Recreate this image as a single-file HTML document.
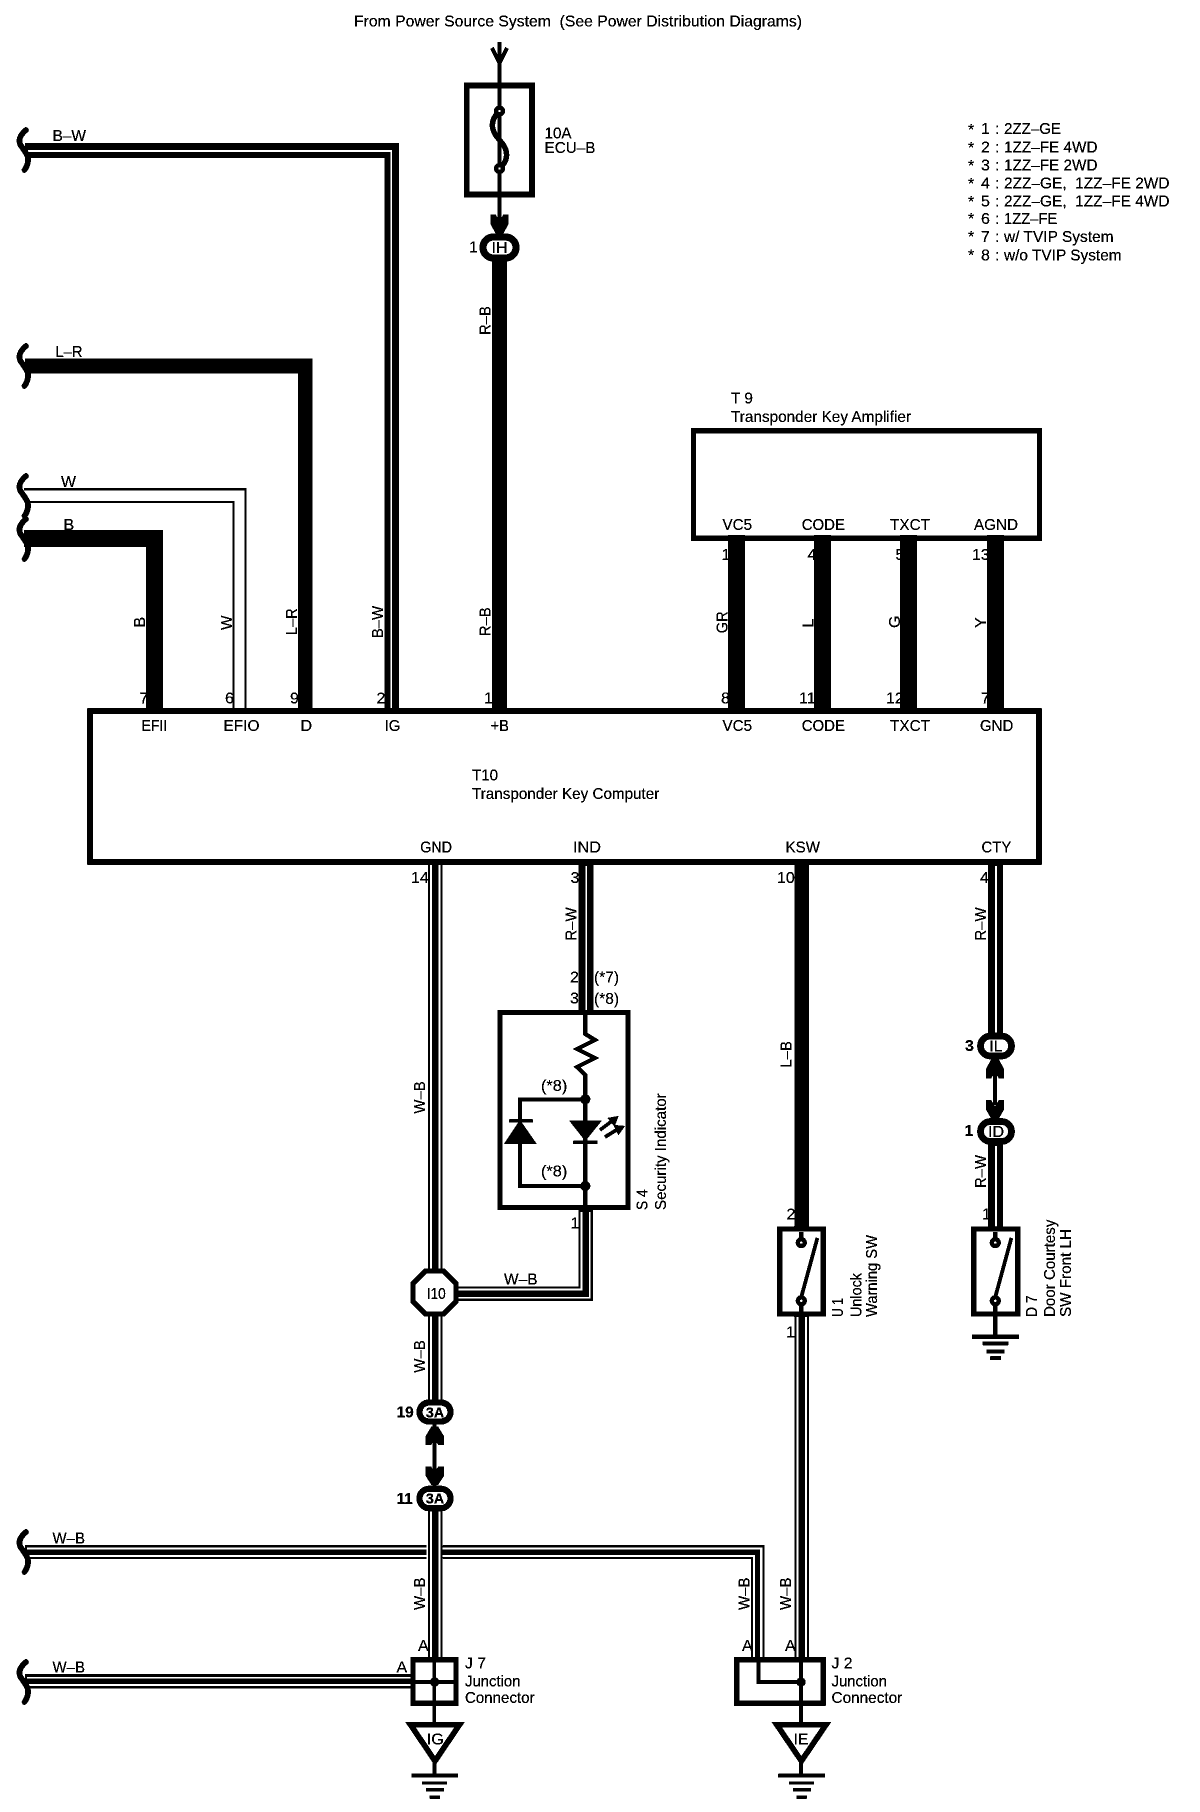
<!DOCTYPE html>
<html lang="en">
<head>
<meta charset="utf-8">
<title>Transponder Key Computer Wiring Diagram</title>
<style>
html,body{margin:0;padding:0;background:#fff}
svg{display:block}
text{font-family:"Liberation Sans",Arial,sans-serif;font-size:16px;fill:#000}
.b{font-weight:bold}
.w{fill:none;stroke:#000}
.g{fill:none;stroke:#fff}
</style>
</head>
<body>
<svg xmlns="http://www.w3.org/2000/svg" width="1200" height="1812" viewBox="0 0 1200 1812">
<defs>
<filter id="bw" x="0" y="0" width="100%" height="100%" color-interpolation-filters="sRGB">
<feColorMatrix type="saturate" values="0"/>
<feComponentTransfer>
<feFuncR type="discrete" tableValues="0 0 0 1"/>
<feFuncG type="discrete" tableValues="0 0 0 1"/>
<feFuncB type="discrete" tableValues="0 0 0 1"/>
</feComponentTransfer>
</filter>
</defs>
<g filter="url(#bw)">
<rect width="1200" height="1812" fill="#fff"/>

<!-- header / notes -->
<text x="354" y="26.5" textLength="448" lengthAdjust="spacingAndGlyphs">From Power Source System&#160; (See Power Distribution Diagrams)</text>
<text x="968" y="135">*</text><text x="981" y="134">1</text><text x="995" y="134">:</text><text x="1004" y="134" textLength="57" lengthAdjust="spacingAndGlyphs">2ZZ–GE</text>
<text x="968" y="153">*</text><text x="981" y="152.3">2</text><text x="995" y="152.3">:</text><text x="1004" y="152.3" textLength="93.5" lengthAdjust="spacingAndGlyphs">1ZZ–FE 4WD</text>
<text x="968" y="171">*</text><text x="981" y="170.7">3</text><text x="995" y="170.7">:</text><text x="1004" y="170.7" textLength="93.5" lengthAdjust="spacingAndGlyphs">1ZZ–FE 2WD</text>
<text x="968" y="189">*</text><text x="981" y="188.7">4</text><text x="995" y="188.7">:</text><text x="1004" y="188.7" textLength="165.5" lengthAdjust="spacingAndGlyphs">2ZZ–GE,&#160; 1ZZ–FE 2WD</text>
<text x="968" y="207">*</text><text x="981" y="206.7">5</text><text x="995" y="206.7">:</text><text x="1004" y="206.7" textLength="165.5" lengthAdjust="spacingAndGlyphs">2ZZ–GE,&#160; 1ZZ–FE 4WD</text>
<text x="968" y="224">*</text><text x="981" y="224">6</text><text x="995" y="224">:</text><text x="1004" y="224" textLength="53.3" lengthAdjust="spacingAndGlyphs">1ZZ–FE</text>
<text x="968" y="242">*</text><text x="981" y="242">7</text><text x="995" y="242">:</text><text x="1004" y="242" textLength="109.6" lengthAdjust="spacingAndGlyphs">w/ TVIP System</text>
<text x="968" y="260.6">*</text><text x="981" y="260.6">8</text><text x="995" y="260.6">:</text><text x="1004" y="260.6" textLength="117.6" lengthAdjust="spacingAndGlyphs">w/o TVIP System</text>

<!-- fuse labels -->
<text x="544.5" y="138.5" textLength="27" lengthAdjust="spacingAndGlyphs">10A</text>
<text x="544.5" y="153" textLength="51" lengthAdjust="spacingAndGlyphs">ECU–B</text>
<text x="469" y="252.5">1</text>

<!-- pin numbers (drawn below the wires) -->
<text x="139.5" y="703.3">7</text>
<text x="225" y="703.3">6</text>
<text x="290" y="703.3">9</text>
<text x="376.5" y="703.3">2</text>
<text x="484" y="703.3">1</text>
<text x="721" y="703.3">8</text>
<text x="799" y="703.3">11</text>
<text x="886" y="703.3">12</text>
<text x="981" y="703.3">7</text>
<text x="721.5" y="559.9">1</text>
<text x="807.5" y="559.9">4</text>
<text x="895.5" y="559.9">5</text>
<text x="972" y="559.9">13</text>
<text x="411" y="883">14</text>
<text x="570.5" y="883">3</text>
<text x="777" y="883">10</text>
<text x="980" y="883">4</text>
<text x="570" y="982.7">2</text>
<text x="570" y="1003.7">3</text>
<text x="594" y="982.7" textLength="25" lengthAdjust="spacingAndGlyphs">(*7)</text>
<text x="594" y="1004" textLength="25" lengthAdjust="spacingAndGlyphs">(*8)</text>
<text x="570.5" y="1228.3">1</text>
<text x="786.5" y="1219.6">2</text>
<text x="982" y="1219.6">1</text>
<text x="786" y="1337.5">1</text>

<!-- top feed -->
<path class="w" stroke-width="4" d="M499.5 42V226"/>
<path class="w" stroke-width="3.8" d="M492 48L499.5 63L507 48"/>
<rect x="466.8" y="85.4" width="65.2" height="109.2" fill="none" stroke="#000" stroke-width="5.6"/>
<path class="w" stroke-width="5.2" d="M499.5 111C490 120 490 130 499.5 140C509 150 509 160 499.5 168.5"/>
<circle cx="499.5" cy="111" r="3.4" fill="#fff" stroke="#000" stroke-width="4.2"/>
<circle cx="499.5" cy="168.5" r="3.4" fill="#fff" stroke="#000" stroke-width="4.2"/>
<polygon points="490.5,214.5 495.5,214.5 499.5,221 503.5,214.5 508.5,214.5 508.5,224 503,234 496,234 490.5,224"/>

<!-- heavy wires -->
<path class="w" stroke-width="15" d="M499.5 255V710"/>
<path class="w" stroke-width="14.6" d="M25 150.3H391.8V710"/>
<path class="g" stroke-width="1.8" d="M27 151H391.1V710"/>
<path class="w" stroke-width="14.5" d="M25 366H305.3V710"/>
<path class="w" stroke-width="2" d="M24 489.3H245.5V710"/>
<path class="w" stroke-width="2" d="M26 502H233.6V710"/>
<path class="w" stroke-width="16.5" d="M24 538.5H154.6V714"/>
<path class="w" stroke-width="16.8" d="M736.6 535V714"/>
<path class="w" stroke-width="16.8" d="M822.4 535V714"/>
<path class="w" stroke-width="16.8" d="M908.5 535V714"/>
<path class="w" stroke-width="16.8" d="M995.3 535V714"/>

<!-- lower wires -->
<path class="w" stroke-width="14" d="M435.3 862V1272"/>
<path class="g" stroke-width="2.2" d="M431.2 865V1272"/>
<path class="g" stroke-width="2.2" d="M439.3 865V1272"/>
<path class="w" stroke-width="14.4" d="M586 862V1012"/>
<path class="g" stroke-width="1.8" d="M586.3 866V1012"/>
<path class="w" stroke-width="14.6" d="M801.7 862V1230"/>
<path class="w" stroke-width="15" d="M995.5 862V1040"/>
<path class="g" stroke-width="1.9" d="M996 866V1036"/>
<path class="w" stroke-width="15" d="M995.5 1140V1230"/>
<path class="g" stroke-width="1.9" d="M996 1146V1227"/>

<!-- S4 lower + I10 horizontal -->
<path class="w" stroke-width="14.2" d="M455 1293.7H585.7V1208"/>
<path class="g" stroke-width="2" d="M455 1289.6H581.6V1212"/>
<path class="g" stroke-width="2" d="M455 1297.8H589.8V1212"/>

<!-- I10 -> J7 -->
<path class="w" stroke-width="14" d="M435.3 1312V1412"/>
<path class="g" stroke-width="2.2" d="M431.2 1316V1402"/>
<path class="g" stroke-width="2.2" d="M439.3 1316V1402"/>
<path class="w" stroke-width="4" d="M434.6 1420V1490"/>
<path class="w" stroke-width="14" d="M435.3 1506V1660"/>
<path class="g" stroke-width="2.2" d="M431.2 1510V1657"/>
<path class="g" stroke-width="2.2" d="M439.3 1510V1657"/>

<!-- W-B horizontal to J2 -->
<path class="w" stroke-width="14" d="M25 1552H426.6"/>
<path class="g" stroke-width="2.4" d="M27 1548.4H426.6"/>
<path class="g" stroke-width="2.2" d="M27 1556H426.6"/>
<path class="w" stroke-width="13.6" d="M442.8 1552H757.8V1660"/>
<path class="g" stroke-width="2.4" d="M442.8 1548.4H761.2V1657"/>
<path class="g" stroke-width="2.2" d="M442.8 1556H754V1657"/>

<!-- W-B horizontal to J7 -->
<path class="w" stroke-width="14" d="M25 1681.3H411"/>
<path class="g" stroke-width="2.2" d="M27 1677.8H411"/>
<path class="g" stroke-width="2.2" d="M27 1685H411"/>

<!-- U1 -> J2 -->
<path class="w" stroke-width="14.6" d="M801.7 1314V1660"/>
<path class="g" stroke-width="2.2" d="M797.6 1317V1657"/>
<path class="g" stroke-width="2" d="M806 1317V1657"/>

<!-- break marks -->
<g class="w" stroke-width="5.5" stroke-linecap="round">
<path transform="translate(19 129)" class="w" d="M7 1C1 6-1 11 1.5 16C5 21 10 27 9 32C8.5 36 7 39 5.5 41"/>
<path transform="translate(19 345)" class="w" d="M7 1C1 6-1 11 1.5 16C5 21 10 27 9 32C8.5 36 7 39 5.5 41"/>
<path transform="translate(19 475)" class="w" d="M7 1C1 6-1 11 1.5 16C5 21 10 27 9 32C8.5 36 7 39 5.5 41"/>
<path transform="translate(19 518)" class="w" d="M7 1C1 6-1 11 1.5 16C5 21 10 27 9 32C8.5 36 7 39 5.5 41"/>
<path transform="translate(19 1531)" class="w" d="M7 1C1 6-1 11 1.5 16C5 21 10 27 9 32C8.5 36 7 39 5.5 41"/>
<path transform="translate(19 1661)" class="w" d="M7 1C1 6-1 11 1.5 16C5 21 10 27 9 32C8.5 36 7 39 5.5 41"/>
</g>

<!-- wire labels horizontal -->
<text x="52.5" y="140.8" textLength="33.5" lengthAdjust="spacingAndGlyphs">B–W</text>
<text x="55.5" y="357" textLength="27" lengthAdjust="spacingAndGlyphs">L–R</text>
<text x="61" y="487" textLength="15" lengthAdjust="spacingAndGlyphs">W</text>
<text x="63.5" y="530">B</text>
<text x="52.5" y="1543.4" textLength="32.5" lengthAdjust="spacingAndGlyphs">W–B</text>
<text x="52.5" y="1672.3" textLength="32.5" lengthAdjust="spacingAndGlyphs">W–B</text>
<text x="504" y="1284.5" textLength="33.5" lengthAdjust="spacingAndGlyphs">W–B</text>

<!-- wire labels rotated -->
<text transform="translate(490.5 335) rotate(-90)" textLength="29" lengthAdjust="spacingAndGlyphs">R–B</text>
<text transform="translate(490.5 636.3) rotate(-90)" textLength="29" lengthAdjust="spacingAndGlyphs">R–B</text>
<text transform="translate(145 627.5) rotate(-90)">B</text>
<text transform="translate(232 630) rotate(-90)" textLength="14.5" lengthAdjust="spacingAndGlyphs">W</text>
<text transform="translate(297 635.2) rotate(-90)" textLength="27" lengthAdjust="spacingAndGlyphs">L–R</text>
<text transform="translate(383 638.3) rotate(-90)" textLength="32.5" lengthAdjust="spacingAndGlyphs">B–W</text>
<text transform="translate(727.5 633.3) rotate(-90)" textLength="22" lengthAdjust="spacingAndGlyphs">GR</text>
<text transform="translate(813.5 627.5) rotate(-90)">L</text>
<text transform="translate(900 628) rotate(-90)">G</text>
<text transform="translate(986 628) rotate(-90)">Y</text>
<text transform="translate(425 1113.6) rotate(-90)" textLength="32.2" lengthAdjust="spacingAndGlyphs">W–B</text>
<text transform="translate(425 1372.7) rotate(-90)" textLength="32.5" lengthAdjust="spacingAndGlyphs">W–B</text>
<text transform="translate(425 1610) rotate(-90)" textLength="32.5" lengthAdjust="spacingAndGlyphs">W–B</text>
<text transform="translate(749.5 1610) rotate(-90)" textLength="32.5" lengthAdjust="spacingAndGlyphs">W–B</text>
<text transform="translate(791 1610) rotate(-90)" textLength="32.5" lengthAdjust="spacingAndGlyphs">W–B</text>
<text transform="translate(791.5 1067.6) rotate(-90)" textLength="26.6" lengthAdjust="spacingAndGlyphs">L–B</text>
<text transform="translate(576.5 940.6) rotate(-90)" textLength="33.3" lengthAdjust="spacingAndGlyphs">R–W</text>
<text transform="translate(986 940.6) rotate(-90)" textLength="33.3" lengthAdjust="spacingAndGlyphs">R–W</text>
<text transform="translate(986 1188) rotate(-90)" textLength="33" lengthAdjust="spacingAndGlyphs">R–W</text>

<!-- T9 -->
<rect x="693.5" y="430.7" width="346" height="107.5" fill="none" stroke="#000" stroke-width="5"/>
<text x="731" y="403.7" textLength="22" lengthAdjust="spacingAndGlyphs">T 9</text>
<text x="731" y="422" textLength="180" lengthAdjust="spacingAndGlyphs">Transponder Key Amplifier</text>
<text x="722.5" y="530" textLength="29.5" lengthAdjust="spacingAndGlyphs">VC5</text>
<text x="801.7" y="530" textLength="43.3" lengthAdjust="spacingAndGlyphs">CODE</text>
<text x="890" y="530" textLength="40" lengthAdjust="spacingAndGlyphs">TXCT</text>
<text x="974" y="530" textLength="44" lengthAdjust="spacingAndGlyphs">AGND</text>

<!-- T10 -->
<rect x="90" y="711" width="949" height="151" fill="none" stroke="#000" stroke-width="5.4"/>
<text x="141.6" y="730.9" textLength="25.6" lengthAdjust="spacingAndGlyphs">EFII</text>
<text x="223.5" y="730.9" textLength="36" lengthAdjust="spacingAndGlyphs">EFIO</text>
<text x="300.5" y="730.9">D</text>
<text x="384.6" y="730.9" textLength="15.7" lengthAdjust="spacingAndGlyphs">IG</text>
<text x="490.6" y="730.9" textLength="18.4" lengthAdjust="spacingAndGlyphs">+B</text>
<text x="722.5" y="730.9" textLength="29.5" lengthAdjust="spacingAndGlyphs">VC5</text>
<text x="801.7" y="730.9" textLength="43.3" lengthAdjust="spacingAndGlyphs">CODE</text>
<text x="890" y="730.9" textLength="40" lengthAdjust="spacingAndGlyphs">TXCT</text>
<text x="980" y="730.9" textLength="33.3" lengthAdjust="spacingAndGlyphs">GND</text>
<text x="472" y="780.6" textLength="26" lengthAdjust="spacingAndGlyphs">T10</text>
<text x="472" y="799" textLength="187.3" lengthAdjust="spacingAndGlyphs">Transponder Key Computer</text>
<text x="420.2" y="852.6" textLength="31.8" lengthAdjust="spacingAndGlyphs">GND</text>
<text x="573" y="852.6" textLength="28" lengthAdjust="spacingAndGlyphs">IND</text>
<text x="785.6" y="852.6" textLength="34.4" lengthAdjust="spacingAndGlyphs">KSW</text>
<text x="981.5" y="852.6" textLength="29.9" lengthAdjust="spacingAndGlyphs">CTY</text>

<!-- S4 -->
<rect x="500" y="1012.5" width="128" height="195" fill="none" stroke="#000" stroke-width="5"/>
<path class="w" stroke-width="4" d="M585.3 1010V1034L595 1040L577 1049L595 1058L577 1067L585.3 1075V1210"/>
<path class="w" stroke-width="3.6" d="M585.3 1099.3H520V1186H585.3"/>
<circle cx="585.3" cy="1099.3" r="5"/>
<circle cx="585.3" cy="1186" r="5"/>
<polygon points="520,1120 536.7,1144 504,1144"/>
<rect x="509.3" y="1119.3" width="23.4" height="3.2"/>
<polygon points="569.3,1120.7 601.7,1120.7 585.3,1141"/>
<rect x="573.3" y="1140.7" width="24" height="3.4"/>
<path class="w" stroke-width="3.4" d="M600 1130L612 1121"/>
<polygon points="607.5,1118 618.5,1116 614.5,1126.5"/>
<path class="w" stroke-width="3.4" d="M605 1137L618 1129"/>
<polygon points="613.5,1125 625,1126 618.5,1135"/>
<text x="541" y="1091" textLength="26.3" lengthAdjust="spacingAndGlyphs">(*8)</text>
<text x="541" y="1176.7" textLength="26.3" lengthAdjust="spacingAndGlyphs">(*8)</text>
<text transform="translate(647.3 1210) rotate(-90)" textLength="20.7" lengthAdjust="spacingAndGlyphs">S 4</text>
<text transform="translate(666 1210) rotate(-90)" textLength="116.7" lengthAdjust="spacingAndGlyphs">Security Indicator</text>

<!-- I10 octagon -->
<polygon points="425.5,1271 443.5,1271 456,1283.5 456,1301.5 443.5,1314 425.5,1314 413,1301.5 413,1283.5" fill="#fff" stroke="#000" stroke-width="5"/>
<text x="426.7" y="1299" textLength="19" lengthAdjust="spacingAndGlyphs">I10</text>

<!-- ovals & connectors -->
<rect x="483" y="237" width="33" height="21" rx="10.5" fill="#fff" stroke="#000" stroke-width="7"/>
<text x="499.5" y="253" text-anchor="middle">IH</text>

<rect x="980.5" y="1036" width="31" height="20" rx="10" fill="#fff" stroke="#000" stroke-width="6.5"/>
<text x="996" y="1051.5" text-anchor="middle">IL</text>
<text class="b" x="965" y="1050.8">3</text>
<path class="w" stroke-width="4" d="M995 1062V1105"/>
<polygon points="986,1078.5 991,1078.5 995,1072 999,1078.5 1004,1078.5 1004,1069 998.5,1059 991.5,1059 986,1069"/>
<polygon points="986,1100 991,1100 995,1106.5 999,1100 1004,1100 1004,1109.5 998.5,1119 991.5,1119 986,1109.5"/>
<rect x="980.5" y="1121.5" width="31" height="20" rx="10" fill="#fff" stroke="#000" stroke-width="6.5"/>
<text x="996" y="1137" text-anchor="middle">ID</text>
<text class="b" x="964.5" y="1135.8">1</text>

<rect x="419.5" y="1402.5" width="31" height="19" rx="9.5" fill="#fff" stroke="#000" stroke-width="6"/>
<text x="435" y="1417.5" text-anchor="middle" class="b" style="font-size:14.5px">3A</text>
<text class="b" x="396.5" y="1417.5" style="font-size:15.5px">19</text>
<polygon points="425.8,1445 431,1445 434.7,1439 438.4,1445 443.8,1445 443.8,1436 438,1426.5 431.5,1426.5 425.8,1436"/>
<polygon points="425.8,1466.5 431,1466.5 434.7,1472.5 438.4,1466.5 443.8,1466.5 443.8,1476 438,1485 431.5,1485 425.8,1476"/>
<rect x="419.5" y="1488.7" width="31" height="19.5" rx="9.7" fill="#fff" stroke="#000" stroke-width="6"/>
<text x="435" y="1503.7" text-anchor="middle" class="b" style="font-size:14.5px">3A</text>
<text class="b" x="396.5" y="1504" style="font-size:15.5px">11</text>

<!-- U1 -->
<rect x="779.8" y="1229" width="43.4" height="85" fill="none" stroke="#000" stroke-width="5.2"/>
<rect x="785" y="1231.6" width="33" height="6" fill="#fff"/>
<path class="w" stroke-width="4" d="M801.3 1232V1243M801.3 1300V1320"/>
<circle cx="801.3" cy="1242.6" r="3.4" fill="#fff" stroke="#000" stroke-width="4.2"/>
<path class="w" stroke-width="3.5" d="M801 1298L817.4 1238"/>
<circle cx="801.3" cy="1300.8" r="3.4" fill="#fff" stroke="#000" stroke-width="4.2"/>
<text transform="translate(843 1317) rotate(-90)" textLength="19" lengthAdjust="spacingAndGlyphs">U 1</text>
<text transform="translate(861.5 1317) rotate(-90)" textLength="44" lengthAdjust="spacingAndGlyphs">Unlock</text>
<text transform="translate(877 1317) rotate(-90)" textLength="82" lengthAdjust="spacingAndGlyphs">Warning SW</text>

<!-- D7 -->
<rect x="973.8" y="1229" width="43.8" height="85" fill="none" stroke="#000" stroke-width="5.2"/>
<rect x="979" y="1231.6" width="33" height="6" fill="#fff"/>
<path class="w" stroke-width="4" d="M995.3 1232V1243M995.3 1300V1336"/>
<circle cx="995.3" cy="1242.6" r="3.4" fill="#fff" stroke="#000" stroke-width="4.2"/>
<path class="w" stroke-width="3.5" d="M995 1298L1011.4 1238"/>
<circle cx="995.3" cy="1300.8" r="3.4" fill="#fff" stroke="#000" stroke-width="4.2"/>
<rect x="972" y="1334.5" width="47" height="4.2"/>
<rect x="982.7" y="1341.4" width="25.6" height="3.8"/>
<rect x="986.5" y="1349.8" width="18" height="3.8"/>
<rect x="990.3" y="1356.3" width="10.7" height="3.7"/>
<text transform="translate(1037 1317) rotate(-90)" textLength="21.6" lengthAdjust="spacingAndGlyphs">D 7</text>
<text transform="translate(1055 1317) rotate(-90)" textLength="97.4" lengthAdjust="spacingAndGlyphs">Door Courtesy</text>
<text transform="translate(1071 1317) rotate(-90)" textLength="88" lengthAdjust="spacingAndGlyphs">SW Front LH</text>

<!-- J7 -->
<text x="418" y="1651">A</text>
<text x="396.5" y="1672.3">A</text>
<rect x="413" y="1659.6" width="43" height="43.5" fill="#fff" stroke="#000" stroke-width="5.2"/>
<path class="w" stroke-width="3.5" d="M434.3 1657V1725M413 1682H456"/>
<circle cx="434.6" cy="1682" r="4.6"/>
<text x="465" y="1668.5" textLength="21" lengthAdjust="spacingAndGlyphs">J 7</text>
<text x="465" y="1686.6" textLength="55.5" lengthAdjust="spacingAndGlyphs">Junction</text>
<text x="465" y="1703" textLength="69.6" lengthAdjust="spacingAndGlyphs">Connector</text>
<polygon points="410.5,1724.7 459.5,1724.7 435,1761" fill="#fff" stroke="#000" stroke-width="5.5"/>
<text x="426.7" y="1744.7" textLength="17.3" lengthAdjust="spacingAndGlyphs">IG</text>
<path class="w" stroke-width="4" d="M434.6 1762V1775"/>
<rect x="411.4" y="1773.8" width="46.6" height="3.6"/>
<rect x="422" y="1781.4" width="25" height="3.2"/>
<rect x="426" y="1788.3" width="18" height="3.2"/>
<rect x="429.8" y="1795.6" width="10.2" height="3.2"/>

<!-- J2 -->
<text x="742" y="1651">A</text>
<text x="785" y="1651">A</text>
<rect x="736.6" y="1659.6" width="86.6" height="43.5" fill="#fff" stroke="#000" stroke-width="5.2"/>
<path class="w" stroke-width="3.5" d="M758.5 1659V1682H801"/>
<path class="w" stroke-width="3.8" d="M801 1657V1725"/>
<circle cx="801" cy="1682" r="4.6"/>
<text x="831.5" y="1668.5" textLength="21" lengthAdjust="spacingAndGlyphs">J 2</text>
<text x="831.5" y="1686.6" textLength="55.5" lengthAdjust="spacingAndGlyphs">Junction</text>
<text x="831.5" y="1703" textLength="70.8" lengthAdjust="spacingAndGlyphs">Connector</text>
<polygon points="776.8,1724.7 826,1724.7 801.4,1761" fill="#fff" stroke="#000" stroke-width="5.5"/>
<text x="793.5" y="1744.7" textLength="15" lengthAdjust="spacingAndGlyphs">IE</text>
<path class="w" stroke-width="4" d="M801 1762V1775"/>
<rect x="778.3" y="1773.8" width="46.7" height="3.6"/>
<rect x="789" y="1781.4" width="25" height="3.2"/>
<rect x="793" y="1788.3" width="18" height="3.2"/>
<rect x="796.5" y="1795.6" width="10.2" height="3.2"/>
</g>
</svg>
</body>
</html>
